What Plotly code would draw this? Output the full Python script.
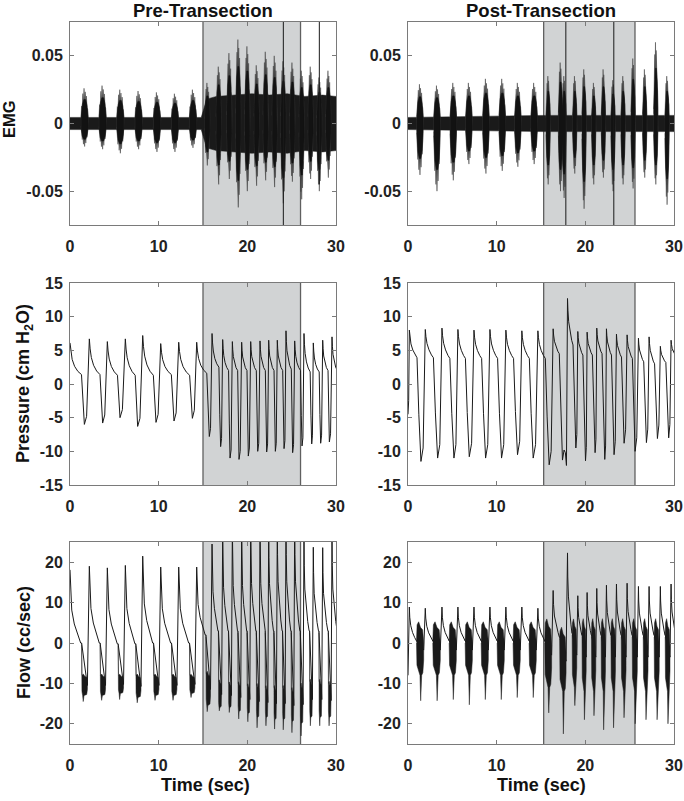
import plotly.graph_objects as go

# ======================= DATA =======================
# shaded stimulation windows (s)
pre_shade = [15.0, 26.0]
post_shade = [15.3, 25.6]

# ---------- Pre-Transection: breath timing (s) ----------
pre_peak_t = [0.00, 2.18, 4.21, 6.24, 8.20, 10.23, 12.26, 14.29, 16.02, 17.22, 18.31,
              19.36, 20.38, 21.43, 22.41, 23.38, 24.36, 25.34, 26.39, 27.44, 28.50, 29.55]
pre_trough_t = [None, 1.62, 3.68, 5.64, 7.63, 9.70, 11.73, 13.80, 15.71, 16.99, 18.05,
                19.06, 20.11, 21.17, 22.18, 23.16, 24.14, 25.11, 26.17, 27.26, 28.27, 29.25]
# pressure (cm H2O)
pre_p_peak = [6.1, 6.7, 6.3, 6.7, 7.2, 6.0, 6.2, 6.2, 7.5, 6.6, 6.3,
              6.2, 6.3, 6.4, 6.5, 6.5, 7.9, 6.4, 7.5, 6.1, 6.5, 7.0]
pre_p_trough = [None, -6.0, -5.8, -5.0, -6.3, -5.7, -5.5, -5.1, -7.8, -9.3, -11.0,
                -11.2, -10.7, -10.0, -10.1, -10.0, -9.6, -10.2, -9.2, -8.9, -8.8, -8.6]
pre_p_plateau = [1.4, 1.4, 1.3, 1.3, 1.3, 1.4, 1.3, 1.6, 2.5, 2.0, 2.0,
                 2.0, 2.0, 2.0, 2.0, 2.0, 2.2, 2.0, 1.8, 1.8, 2.0, 2.0]
# flow (cc/sec)
pre_f_peak = [18.1, 19.0, 18.6, 19.2, 21.5, 18.8, 18.8, 18.8, 24.5, 27.0, 28.0,
              28.0, 29.0, 29.0, 29.0, 30.0, 30.0, 30.0, 26.0, 23.7, 23.6, 26.0]
pre_f_plateau = [0.0, 0.0, -0.2, -0.2, 0.0, 0.0, 0.0, 2.0, 3.0, 3.0, 3.0,
                 3.0, 3.0, 3.0, 3.0, 3.0, 3.0, 3.0, 3.0, 3.0, 3.0, 3.0]
pre_f_band_top = [None, -8.0, -8.0, -8.0, -8.0, -8.0, -8.0, -8.0, -7.5, -9.5, -10.0,
                  -10.0, -10.5, -10.5, -11.0, -11.0, -11.0, -11.5, -10.5, -9.5, -9.5, -10.0]
pre_f_band_core = [None, -13.0, -13.0, -12.5, -13.5, -13.0, -13.0, -12.5, -15.5, -16.0, -16.0,
                   -17.0, -17.5, -18.5, -18.5, -19.0, -19.0, -19.5, -20.0, -18.5, -18.5, -18.5]
pre_f_band_tip = [None, -14.5, -14.2, -14.0, -14.8, -14.2, -14.2, -13.5, -17.0, -16.8, -17.2,
                  -18.8, -19.5, -21.0, -20.5, -21.3, -21.5, -22.2, -23.0, -20.5, -20.5, -20.5]
# EMG bursts (s, V)
pre_emg_t = [1.65, 3.68, 5.68, 7.74, 9.81, 11.84, 13.87, 15.49, 16.77, 17.97, 18.98,
             20.00, 21.05, 22.07, 23.08, 24.06, 25.08, 26.13, 27.14, 28.12, 29.14]
pre_emg_hw = [0.42, 0.42, 0.42, 0.42, 0.42, 0.42, 0.42, 0.30, 0.30, 0.30, 0.30,
              0.30, 0.30, 0.30, 0.30, 0.30, 0.30, 0.30, 0.30, 0.30, 0.30]
pre_emg_top = [0.026, 0.028, 0.025, 0.024, 0.023, 0.022, 0.025, 0.030, 0.042, 0.052, 0.062,
               0.057, 0.043, 0.053, 0.050, 0.046, 0.045, 0.039, 0.042, 0.034, 0.039]
pre_emg_bot = [-0.017, -0.019, -0.022, -0.019, -0.021, -0.021, -0.018, -0.031, -0.045, -0.041, -0.062,
               -0.050, -0.046, -0.042, -0.047, -0.059, -0.043, -0.056, -0.041, -0.050, -0.040]
pre_emg_base_t = [0.0, 14.8, 15.1, 15.4, 16.5, 18.5, 20.5, 22.5, 24.5, 26.5, 28.5, 30.0]
pre_emg_base_a = [0.0045, 0.0045, 0.011, 0.018, 0.020, 0.021, 0.022, 0.021, 0.022, 0.020, 0.021, 0.020]
pre_emg_spike_t = [24.06, 28.12]
pre_emg_spike_lo = [-0.09, -0.045]
pre_emg_spike_hi = [0.09, 0.09]

# ---------- Post-Transection ----------
post_peak_t = [0.15, 1.95, 3.83, 5.63, 7.44, 9.24, 11.04, 12.84, 14.65, 16.37, 17.99,
               19.15, 20.20, 21.29, 22.38, 23.51, 24.71, 25.99, 27.19, 28.46, 29.67]
post_trough_t = [0.00, 1.46, 3.34, 5.18, 6.91, 8.75, 10.55, 12.35, 14.12, 15.92, 17.42,
                 18.93, 20.02, 21.10, 22.19, 23.24, 24.37, 25.61, 26.89, 28.13, 29.40]
post_p_peak = [8.0, 8.1, 8.3, 8.1, 8.0, 8.1, 8.0, 7.9, 7.9, 8.2, 12.7,
               7.8, 7.7, 8.3, 8.2, 7.4, 7.3, 6.8, 7.0, 5.6, 6.5]
post_p_trough = [-4.5, -11.5, -11.0, -11.0, -10.8, -11.0, -11.0, -10.5, -11.0, -12.0, -11.3,
                 -9.5, -11.4, -10.2, -11.2, -10.5, -8.8, -10.0, -8.7, -8.1, -8.0]
post_p_plateau = [3.9, 3.9, 3.8, 3.8, 3.8, 3.8, 3.8, 3.8, 3.8, 4.5, 5.8,
                  4.3, 4.3, 4.5, 4.3, 4.0, 3.8, 3.3, 3.0, 3.2, 4.0]
post_p_extra_t = [17.60, 17.75, 17.87]
post_p_extra_v = [-9.8, -10.2, -12.1]
post_f_start = [0.0, -8.0]
post_f_peak = [8.9, 8.6, 8.9, 8.9, 8.9, 8.9, 8.9, 8.9, 8.6, 13.0, 22.3,
               11.7, 12.5, 13.5, 14.3, 14.6, 14.8, 14.0, 14.0, 14.0, 14.6]
post_f_plateau = [0.5, 0.5, 0.5, 0.5, 0.5, 0.5, 0.5, 0.5, 0.5, 1.5, 2.5,
                  2.0, 2.0, 2.0, 2.0, 2.0, 2.0, 2.0, 2.0, 2.0, 2.0]
post_f_band_top = [None, 4.5, 4.5, 4.5, 4.5, 4.5, 4.5, 4.5, 4.5, 5.0, 3.0,
                   5.0, 5.0, 5.0, 5.0, 5.0, 5.0, 5.0, 5.0, 5.0, 5.0]
post_f_band_core = [None, -8.0, -8.0, -8.0, -8.0, -8.0, -8.0, -8.0, -8.0, -11.0, -12.0,
                    -11.0, -12.0, -12.0, -12.0, -12.0, -12.0, -12.0, -12.0, -12.0, -12.0]
post_f_band_tip = [None, -14.3, -14.3, -14.0, -15.3, -14.0, -14.0, -13.5, -13.5, -17.3, -22.5,
                   -15.5, -19.0, -18.0, -21.5, -21.0, -18.5, -20.0, -19.0, -19.0, -20.0]
post_emg_t = [1.35, 3.27, 5.11, 6.87, 8.79, 10.63, 12.39, 14.23, 15.81, 17.20, 17.61,
              18.81, 19.86, 20.95, 22.04, 23.13, 24.26, 25.39, 26.70, 27.95, 29.22]
post_emg_hw = [0.38, 0.38, 0.38, 0.38, 0.38, 0.38, 0.38, 0.38, 0.25, 0.25, 0.25,
               0.25, 0.25, 0.25, 0.25, 0.25, 0.25, 0.25, 0.25, 0.25, 0.25]
post_emg_top = [0.029, 0.028, 0.030, 0.030, 0.033, 0.033, 0.030, 0.030, 0.035, 0.045, 0.035,
                0.035, 0.040, 0.030, 0.040, 0.032, 0.035, 0.048, 0.040, 0.060, 0.035]
post_emg_bot = [-0.038, -0.050, -0.042, -0.030, -0.037, -0.035, -0.032, -0.030, -0.045, -0.050, -0.055,
                -0.037, -0.063, -0.045, -0.040, -0.050, -0.045, -0.048, -0.040, -0.045, -0.060]
post_emg_base_t = [0.0, 15.3, 30.0]
post_emg_base_a = [0.0045, 0.006, 0.006]
post_emg_spike_t = [17.80, 23.21]
post_emg_spike_lo = [-0.09, -0.09]
post_emg_spike_hi = [0.09, 0.09]

# tick labels
time_ticks = [0, 10, 20, 30]
emg_ticks = [-0.05, 0, 0.05]
emg_ticktext = ["-0.05", "0", "0.05"]
p_ticks = [-15, -10, -5, 0, 5, 10, 15]
f_ticks = [-20, -10, 0, 10, 20]

# ======================= waveform shape templates (style) =======================
pre_p_shape = dict(decay_pos=[0.06, 0.15, 0.32, 0.55], decay_frac=[0.72, 0.48, 0.26, 0.1],
                   plat_end=0.8, drop_pos=0.9, drop_frac=0.6, rec_pos=0.45, rec_dv=1.2)
post_p_shape = dict(decay_pos=[0.05, 0.14, 0.3, 0.5], decay_frac=[0.75, 0.5, 0.28, 0.1],
                    plat_end=0.66, drop_pos=0.82, drop_frac=0.55, rec_pos=0.5, rec_dv=2.0)
pre_f_shape = dict(band_start=0.4, band_end=0.1, tip_pos=0.3,
                   decay_pos=[0.05, 0.15, 0.37, 0.67], decay_frac=[0.7, 0.45, 0.26, 0.1], plat_end=0.92)
post_f_shape = dict(band_start=0.55, band_end=0.1, tip_pos=0.6,
                    decay_pos=[0.06, 0.2, 0.45, 0.75], decay_frac=[0.7, 0.45, 0.25, 0.1], plat_end=0.95)
emg_u = [-1.0, -0.82, -0.64, -0.48, -0.32, -0.16, 0.0, 0.16, 0.32, 0.48, 0.64, 0.82, 1.0]
emg_ftop = [0.12, 0.5, 0.42, 0.85, 0.55, 1.0, 0.6, 0.9, 0.5, 0.78, 0.45, 0.4, 0.12]
emg_fbot = [0.12, 0.4, 0.7, 0.5, 0.9, 0.6, 1.0, 0.55, 0.85, 0.5, 0.6, 0.35, 0.12]
core_u = [-0.92, -0.6, -0.2, 0.25, 0.65, 0.92]
core_f = [0.18, 0.55, 0.68, 0.68, 0.52, 0.18]

FONT = "Liberation Sans, Arial, Helvetica, sans-serif"
INK = "#1a1a1a"
SHADE = "#d1d3d4"
SHADE_EDGE = "#606060"
FRAME = "#7a7a7a"
W, H = 684, 801
col_px = [(70, 336), (408, 674)]  # pixel positions of the panels
row_px = [(22, 225), (283, 485), (542, 744)]


def fx(p):
    return p / W


def fy(p):
    return 1 - p / H


def pressure_line(peak_t, peak_v, trough_t, trough_v, plateau, shp, extra=None):
    extra = extra or {}
    xs, ys = [], []
    n = len(peak_t)
    for i in range(n):
        if trough_t[i] is not None:
            xs.append(trough_t[i]); ys.append(trough_v[i])
            if i in extra:
                for t, v in extra[i]:
                    xs.append(t); ys.append(v)
            else:
                xs.append(trough_t[i] + shp["rec_pos"] * (peak_t[i] - trough_t[i]))
                ys.append(trough_v[i] + shp["rec_dv"])
        xs.append(peak_t[i]); ys.append(peak_v[i])
        nt = trough_t[i + 1] if i + 1 < n else peak_t[i] + (trough_t[i] - peak_t[i - 1])
        span = nt - peak_t[i]
        for pos, fr in zip(shp["decay_pos"], shp["decay_frac"]):
            xs.append(peak_t[i] + pos * span)
            ys.append(plateau[i] + (peak_v[i] - plateau[i]) * fr)
        xs.append(peak_t[i] + shp["plat_end"] * span); ys.append(plateau[i])
        if i + 1 < n:
            xs.append(peak_t[i] + shp["drop_pos"] * span)
            ys.append(plateau[i] + (trough_v[i + 1] - plateau[i]) * shp["drop_frac"])
    return xs, ys


def flow_line(peak_t, peak_v, plateau, btop, bcore, btip, shp, start=None):
    xs, ys, px, py = [], [], [], []
    if start:
        xs.append(start[0]); ys.append(start[1])
    n = len(peak_t)

    def band(j):
        C = peak_t[j] - peak_t[j - 1]
        return peak_t[j] - shp["band_start"] * C, peak_t[j] - shp["band_end"] * C

    for i in range(n):
        if i > 0 and btop[i] is not None:
            t0, t1 = band(i)
            w = t1 - t0
            top, core, tip = btop[i], bcore[i], btip[i]
            d = top - core
            lvl = plateau[i - 1]
            xs += [t0, t1]; ys += [lvl, core + 0.5 * d]
            tp = shp["tip_pos"]
            pts = [(t0, lvl), (t0 + 0.08 * w, top), (t0 + 0.3 * w, top + 0.06 * d),
                   (t0 + 0.55 * w, top - 0.05 * d), (t0 + 0.85 * w, top - 0.1 * d),
                   (t1, top - 0.35 * d),
                   (t1, core + 0.3 * d), (t0 + 0.88 * w, core + 0.05 * d),
                   (t0 + (tp + 0.12) * w, core), (t0 + (tp + 0.02) * w, tip),
                   (t0 + (tp - 0.02) * w, tip), (t0 + (tp - 0.12) * w, core),
                   (t0 + 0.06 * w, core + 0.2 * d), (t0, lvl - 0.5)]
            px += [p[0] for p in pts] + [None]
            py += [p[1] for p in pts] + [None]
        xs.append(peak_t[i]); ys.append(peak_v[i])
        if i + 1 < n:
            nt0 = band(i + 1)[0]
        else:
            nt0 = peak_t[i] + (1 - shp["band_start"]) * (peak_t[i] - peak_t[i - 1])
        span = nt0 - peak_t[i]
        for pos, fr in zip(shp["decay_pos"], shp["decay_frac"]):
            xs.append(peak_t[i] + pos * span)
            ys.append(plateau[i] + (peak_v[i] - plateau[i]) * fr)
        xs.append(peak_t[i] + shp["plat_end"] * span); ys.append(plateau[i])
    return xs, ys, px, py


def burst_polys(cs, hws, tops, bots, u, ftop, fbot):
    xs, ys = [], []
    for c, hw, a, b in zip(cs, hws, tops, bots):
        for uu, f in zip(u, ftop):
            xs.append(c + uu * hw); ys.append(a * f)
        for uu, f in zip(reversed(u), reversed(fbot)):
            xs.append(c + uu * hw); ys.append(b * f)
        xs.append(None); ys.append(None)
    return xs, ys


fig = go.Figure()


def ax(k):
    return ("x" if k == 1 else f"x{k}"), ("y" if k == 1 else f"y{k}")


def add(tr, k):
    xa, ya = ax(k)
    tr.update(xaxis=xa, yaxis=ya, showlegend=False, hoverinfo="skip")
    fig.add_trace(tr)


def poly(xs, ys, k, color):
    add(go.Scatter(x=xs, y=ys, mode="lines", fill="toself", fillcolor=color,
                   line=dict(color=color, width=0.5)), k)


def line(xs, ys, k, width=1.0):
    add(go.Scatter(x=xs, y=ys, mode="lines", line=dict(color=INK, width=width)), k)


cols = [
    dict(emg_t=pre_emg_t, emg_hw=pre_emg_hw, emg_top=pre_emg_top, emg_bot=pre_emg_bot,
         base_t=pre_emg_base_t, base_a=pre_emg_base_a, sp_t=pre_emg_spike_t,
         sp_lo=pre_emg_spike_lo, sp_hi=pre_emg_spike_hi),
    dict(emg_t=post_emg_t, emg_hw=post_emg_hw, emg_top=post_emg_top, emg_bot=post_emg_bot,
         base_t=post_emg_base_t, base_a=post_emg_base_a, sp_t=post_emg_spike_t,
         sp_lo=post_emg_spike_lo, sp_hi=post_emg_spike_hi),
]

# ---- EMG panels ----
for c, d in enumerate(cols):
    k = 1 + c
    bx = d["base_t"] + d["base_t"][::-1]
    by = d["base_a"] + [-a for a in d["base_a"][::-1]]
    poly(bx, by, k, INK)
    ox, oy = burst_polys(d["emg_t"], d["emg_hw"], d["emg_top"], d["emg_bot"], emg_u, emg_ftop, emg_fbot)
    poly(ox, oy, k, "#3a3a3a")
    ix, iy = burst_polys(d["emg_t"], d["emg_hw"], d["emg_top"], d["emg_bot"], core_u, core_f, core_f)
    poly(ix, iy, k, "#121212")
    sx, sy = [], []
    for t, lo, hi in zip(d["sp_t"], d["sp_lo"], d["sp_hi"]):
        sx += [t, t, None]; sy += [lo, hi, None]
    line(sx, sy, k, 1.0)

# ---- Pressure panels ----
x, y = pressure_line(pre_peak_t, pre_p_peak, pre_trough_t, pre_p_trough, pre_p_plateau, pre_p_shape)
line(x, y, 3)
extra = {10: list(zip(post_p_extra_t, post_p_extra_v))}
x, y = pressure_line(post_peak_t, post_p_peak, post_trough_t, post_p_trough, post_p_plateau,
                     post_p_shape, extra)
line(x, y, 4)

# ---- Flow panels ----
x, y, px, py = flow_line(pre_peak_t, pre_f_peak, pre_f_plateau, pre_f_band_top, pre_f_band_core,
                         pre_f_band_tip, pre_f_shape)
line(x, y, 5)
poly(px, py, 5, INK)
x, y, px, py = flow_line(post_peak_t, post_f_peak, post_f_plateau, post_f_band_top, post_f_band_core,
                         post_f_band_tip, post_f_shape, start=post_f_start)
line(x, y, 6)
poly(px, py, 6, INK)

# ---- axes ----
tickfont = dict(family=FONT, size=16, color="#222222", weight="bold")
layout = dict(width=W, height=H, margin=dict(l=0, r=0, t=0, b=0, autoexpand=False),
              paper_bgcolor="white", plot_bgcolor="white", showlegend=False)
yspec = [(emg_ticks, emg_ticktext, [-0.075, 0.075]),
         ([*p_ticks], [str(v) for v in p_ticks], [-15, 15]),
         ([*f_ticks], [str(v) for v in f_ticks], [-25, 25])]
shapes = []
for r in range(3):
    for c in range(2):
        k = r * 2 + c + 1
        xa, ya = ax(k)
        xkey = "xaxis" if k == 1 else f"xaxis{k}"
        ykey = "yaxis" if k == 1 else f"yaxis{k}"
        common = dict(ticks="inside", ticklen=4, tickwidth=1, tickcolor=FRAME, showline=True,
                      linecolor=FRAME, linewidth=1, mirror="ticks", showgrid=False,
                      zeroline=False, tickfont=tickfont, automargin=False)
        layout[xkey] = dict(domain=[fx(col_px[c][0]), fx(col_px[c][1])], range=[0, 30],
                            tickvals=time_ticks, ticktext=[str(v) for v in time_ticks],
                            anchor=ya, ticklabelstandoff=7, **common)
        tv, tt, rg = yspec[r]
        layout[ykey] = dict(domain=[fy(row_px[r][1]), fy(row_px[r][0])], range=rg,
                            tickvals=tv, ticktext=tt, anchor=xa, ticklabelstandoff=3, **common)
        sh = pre_shade if c == 0 else post_shade
        shapes.append(dict(type="rect", xref=xa, yref=f"{ya} domain", x0=sh[0], x1=sh[1],
                           y0=0, y1=1, fillcolor=SHADE, line=dict(width=0), layer="below"))
        for xv in sh:
            shapes.append(dict(type="line", xref=xa, yref=f"{ya} domain", x0=xv, x1=xv,
                               y0=0, y1=1, line=dict(color=SHADE_EDGE, width=1.3), layer="below"))
layout["shapes"] = shapes


def lab(size):
    return dict(family=FONT, size=size, color="#111111", weight="bold")


ann = [
    dict(text="Pre-Transection", x=fx(203), y=fy(10), font=lab(18.5)),
    dict(text="Post-Transection", x=fx(541), y=fy(10), font=lab(18.5)),
    dict(text="EMG", x=fx(9), y=fy(119), textangle=-90, font=lab(16.5)),
    dict(text="Pressure (cm H<sub>2</sub>O)", x=fx(24), y=fy(384), textangle=-90, font=lab(18)),
    dict(text="Flow (cc/sec)", x=fx(24), y=fy(643), textangle=-90, font=lab(18)),
    dict(text="Time (sec)", x=fx(205), y=fy(785), font=lab(18)),
    dict(text="Time (sec)", x=fx(541), y=fy(785), font=lab(18)),
]
layout["annotations"] = [dict(a, xref="paper", yref="paper", showarrow=False,
                              xanchor="center", yanchor="middle") for a in ann]
fig.update_layout(**layout)
fig.write_html("out.html", config={"displayModeBar": False, "staticPlot": True},
               post_script="document.body.style.margin='0px';")
